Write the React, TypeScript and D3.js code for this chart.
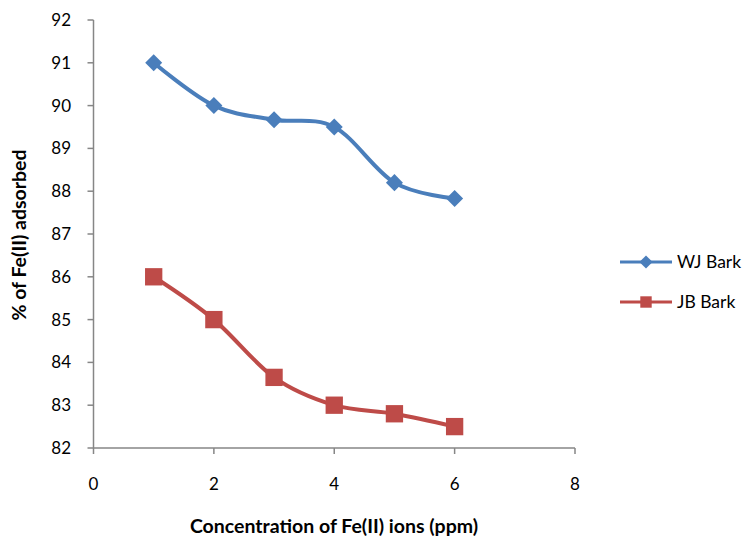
import React from "react";
import * as d3 from "d3";

const xValues = [1, 2, 3, 4, 5, 6];
const wjBark = [91, 90, 89.67, 89.5, 88.2, 87.83];
const jbBark = [86, 85, 83.65, 83, 82.8, 82.5];
const xTicks = [0, 2, 4, 6, 8];
const yTicks = [82, 83, 84, 85, 86, 87, 88, 89, 90, 91, 92];
const seriesNames = ["WJ Bark", "JB Bark"];
const seriesColors = ["#4A7EBB", "#BE4B48"];

const W = 745;
const H = 538;
const FONT = "Lato, 'Open Sans', 'Liberation Sans', sans-serif";

export default function App() {
  const x = d3.scaleLinear().domain([0, 8]).range([93.5, 575]);
  const y = d3.scaleLinear().domain([82, 92]).range([448, 20]);
  const line = d3
    .line<[number, number]>()
    .x((d) => x(d[0]))
    .y((d) => y(d[1]))
    .curve(d3.curveCardinal.tension(0));
  const series = [wjBark, jbBark];
  const axisColor = "#868686";
  const diamond = d3.symbol().type(d3.symbolDiamond2).size(185);
  const square = d3.symbol().type(d3.symbolSquare).size(300);
  const legendSquare = d3.symbol().type(d3.symbolSquare).size(130);
  const legendDiamond = d3.symbol().type(d3.symbolDiamond2).size(110);

  return (
    <svg
      width={W}
      height={H}
      style={{ position: "absolute", left: 0, top: 0, background: "#fff" }}
      fontFamily={FONT}
    >
      {/* axes */}
      <line x1={x(0)} x2={x(0)} y1={y(92)} y2={y(82)} stroke={axisColor} strokeWidth={1.5} />
      <line x1={x(0)} x2={x(8)} y1={y(82)} y2={y(82)} stroke={axisColor} strokeWidth={1.5} />
      {yTicks.map((t) => (
        <g key={"y" + t}>
          <line x1={x(0) - 6} x2={x(0)} y1={y(t)} y2={y(t)} stroke={axisColor} strokeWidth={1.5} />
          <text x={71} y={y(t)} dy="0.35em" textAnchor="end" fontSize={17} fill="#000">
            {t}
          </text>
        </g>
      ))}
      {xTicks.map((t) => (
        <g key={"x" + t}>
          <line x1={x(t)} x2={x(t)} y1={y(82)} y2={y(82) + 6} stroke={axisColor} strokeWidth={1.5} />
          <text x={x(t)} y={484} dy="0.35em" textAnchor="middle" fontSize={17} fill="#000">
            {t}
          </text>
        </g>
      ))}
      <text
        x={334}
        y={526}
        dy="0.35em"
        textAnchor="middle"
        fontSize={19.5}
        fontWeight="bold"
        fill="#000"
      >
        Concentration of Fe(II) ions (ppm)
      </text>
      <text
        transform={`translate(19,235) rotate(-90)`}
        dy="0.35em"
        textAnchor="middle"
        fontSize={19.5}
        fontWeight="bold"
        fill="#000"
      >
        % of Fe(II) adsorbed
      </text>

      {/* series */}
      {series.map((vals, si) => {
        const pts = xValues.map((xv, i) => [xv, vals[i]] as [number, number]);
        return (
          <g key={"s" + si}>
            <path d={line(pts) || ""} fill="none" stroke={seriesColors[si]} strokeWidth={4} strokeLinejoin="round" />
            {pts.map((p, i) => (
              <path
                key={i}
                d={(si === 0 ? diamond : square)() || ""}
                transform={`translate(${x(p[0])},${y(p[1])})`}
                fill={seriesColors[si]}
              />
            ))}
          </g>
        );
      })}

      {/* legend */}
      {seriesNames.map((name, i) => {
        const ly = 262 + i * 40;
        return (
          <g key={"l" + i}>
            <line x1={620} x2={672} y1={ly} y2={ly} stroke={seriesColors[i]} strokeWidth={3} />
            <path
              d={(i === 0 ? legendDiamond : legendSquare)() || ""}
              transform={`translate(646,${ly})`}
              fill={seriesColors[i]}
            />
            <text x={677} y={ly} dy="0.35em" fontSize={17.5} fill="#000">
              {name}
            </text>
          </g>
        );
      })}
    </svg>
  );
}
